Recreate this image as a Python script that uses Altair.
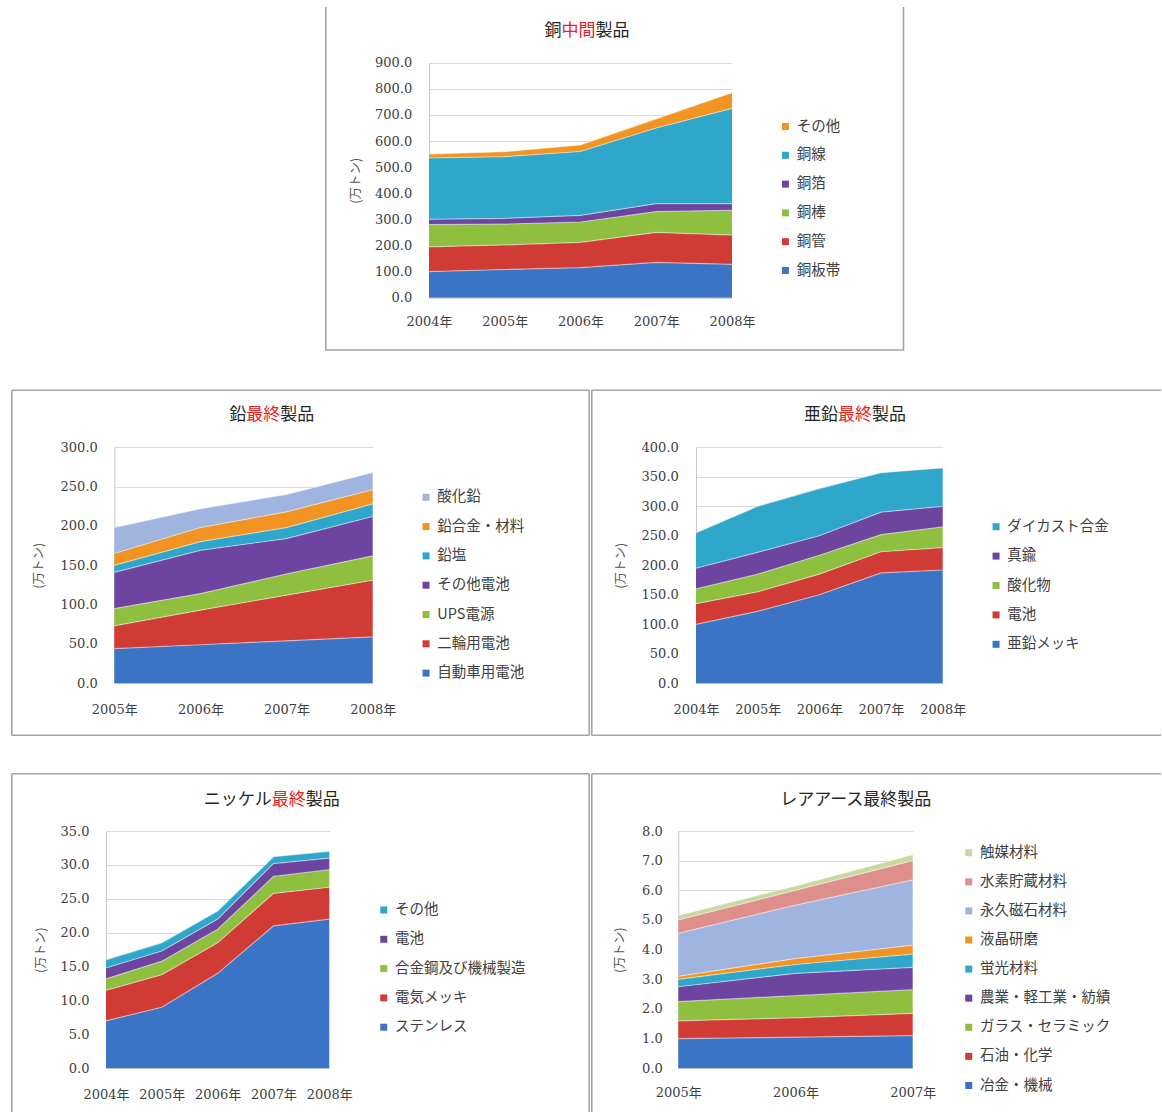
import altair as alt
import pandas as pd

# ---------------- data ----------------
CU_YEARS = ["2004年", "2005年", "2006年", "2007年", "2008年"]
CU_NAMES = ["銅板帯", "銅管", "銅棒", "銅箔", "銅線", "その他"]
CU_PLATE = [100, 108, 115, 135, 128]
CU_TUBE = [95, 94, 97, 115, 112]
CU_ROD = [85, 80, 78, 80, 95]
CU_FOIL = [20, 22, 25, 30, 25]
CU_WIRE = [235, 236, 245, 290, 365]
CU_OTHER = [15, 19, 25, 35, 60]
CU_TICKS = [0, 100, 200, 300, 400, 500, 600, 700, 800, 900]

PB_YEARS = ["2005年", "2006年", "2007年", "2008年"]
PB_NAMES = ["自動車用電池", "二輪用電池", "UPS電源", "その他電池", "鉛塩", "鉛合金・材料", "酸化鉛"]
PB_AUTO = [44, 49, 54, 59]
PB_BIKE = [29, 44, 58, 72]
PB_UPS = [22, 21, 27, 31]
PB_OTHERBAT = [46, 55, 45, 50]
PB_SALT = [9, 11, 14, 16]
PB_ALLOY = [15, 18, 20, 18]
PB_OXIDE = [33, 24, 22, 22]
PB_TICKS = [0, 50, 100, 150, 200, 250, 300]

ZN_YEARS = ["2004年", "2005年", "2006年", "2007年", "2008年"]
ZN_NAMES = ["亜鉛メッキ", "電池", "酸化物", "真鍮", "ダイカスト合金"]
ZN_GALV = [100, 122, 150, 187, 192]
ZN_BAT = [35, 33, 35, 36, 38]
ZN_OXIDE = [25, 30, 32, 29, 35]
ZN_BRASS = [35, 37, 33, 38, 35]
ZN_DIECAST = [60, 78, 80, 67, 65]
ZN_TICKS = [0, 50, 100, 150, 200, 250, 300, 350, 400]

NI_YEARS = ["2004年", "2005年", "2006年", "2007年", "2008年"]
NI_NAMES = ["ステンレス", "電気メッキ", "合金鋼及び機械製造", "電池", "その他"]
NI_STAINLESS = [7.0, 9.0, 14.0, 21.0, 22.0]
NI_PLATING = [4.5, 4.8, 4.5, 4.8, 4.7]
NI_ALLOY = [1.7, 2.0, 2.0, 2.5, 2.6]
NI_BAT = [1.6, 1.5, 1.5, 1.9, 1.7]
NI_OTHER = [1.2, 1.2, 1.2, 1.0, 1.0]
NI_TICKS = [0, 5, 10, 15, 20, 25, 30, 35]

RE_YEARS = ["2005年", "2006年", "2007年"]
RE_NAMES = ["冶金・機械", "石油・化学", "ガラス・セラミック", "農業・軽工業・紡績", "蛍光材料",
            "液晶研磨", "永久磁石材料", "水素貯蔵材料", "触媒材料"]
RE_METAL = [1.0, 1.05, 1.1]
RE_PETRO = [0.6, 0.65, 0.75]
RE_GLASS = [0.65, 0.75, 0.8]
RE_AGRI = [0.5, 0.75, 0.75]
RE_PHOSPHOR = [0.25, 0.3, 0.45]
RE_POLISH = [0.1, 0.2, 0.3]
RE_MAGNET = [1.45, 1.8, 2.2]
RE_HYDROGEN = [0.45, 0.5, 0.65]
RE_CATALYST = [0.15, 0.15, 0.2]
RE_TICKS = [0, 1, 2, 3, 4, 5, 6, 7, 8]

# ---------------- styles ----------------
BLUE = "#3b74c4"
RED = "#d13b35"
GREEN = "#8fbf3f"
PURPLE = "#6d45a0"
AQUA = "#2ea7cb"
ORANGE = "#f29423"
LIGHTBLUE = "#9fb5e0"
PINK = "#de8e8b"
LIGHTGREEN = "#c6d9a0"

JP_FONT = "Noto Sans CJK JP"
NUM_FONT = "'DejaVu Serif', 'Liberation Serif', 'Noto Sans CJK JP', serif"
LABEL_COLOR = "#404040"
BORDER = "#a3a3a3"
TITLE_BLACK = "#262626"
TITLE_RED = "#f0201e"

ONE = pd.DataFrame({"k": [0]})


def title_layers(pieces, cx, cy, fs=17):
    total = sum(len(t) for t, _ in pieces) * fs
    x = cx - total / 2.0
    out = []
    for t, c in pieces:
        out.append(
            alt.Chart(ONE).mark_text(text=t, font=JP_FONT, fontSize=fs, color=c,
                                     align="left", baseline="middle")
            .encode(x=alt.value(x), y=alt.value(cy))
        )
        x += len(t) * fs
    return out


def border_layers(segments):
    out = []
    for (xa, ya, xb, yb) in segments:
        if xa == xb:
            enc = dict(x=alt.value(xa), y=alt.value(ya), y2=alt.value(yb))
        else:
            enc = dict(y=alt.value(ya), x=alt.value(xa), x2=alt.value(xb))
        out.append(alt.Chart(ONE).mark_rule(color=BORDER, strokeWidth=1.6).encode(**enc))
    return out


def panel(years, names, series, colors, ymax, ticks, title_pieces, g):
    rows = []
    for i, (n, vals) in enumerate(zip(names, series)):
        for y, v in zip(years, vals):
            rows.append({"year": y, "series": n, "order": i, "value": v})
    df = pd.DataFrame(rows)
    df["top"] = df.groupby("year")["value"].cumsum()

    xs = alt.Scale(type="point", domain=years, range=[g["x0"], g["x1"]], padding=0)
    ys = alt.Scale(domain=[0, ymax], range=[g["yb"], g["yt"]], nice=False, zero=True)

    x_axis = alt.Axis(orient="bottom", offset=-(g["H"] - g["yb"]), labelAngle=0, ticks=False,
                      domain=False, grid=False, labelPadding=g["xpad"], title=None,
                      labelFont=NUM_FONT, labelFontSize=13, labelColor=LABEL_COLOR)
    y_axis = alt.Axis(orient="left", offset=-g["x0"], values=ticks, format=".1f", ticks=False,
                      domain=True, domainColor="#c8c8c8", grid=True, gridColor="#d9d9d9",
                      labelPadding=g["ypad"], labelFont=NUM_FONT, labelFontSize=13,
                      labelColor=LABEL_COLOR, title="(万トン)", titleFont=JP_FONT,
                      titleFontSize=12.5, titleFontWeight="normal", titleColor="#505050",
                      titleX=g["tx"] - g["x0"], titleY=(g["yb"] + g["yt"]) / 2.0,
                      titleAngle=270, titleAlign="center", titleBaseline="middle")

    legend = alt.Legend(orient="none", legendX=g["lx"] - 3.5, legendY=g["ly"] - 7.25,
                        direction="vertical", title=None, symbolType="square", symbolSize=49,
                        symbolStrokeWidth=0, labelFont=JP_FONT, labelFontSize=14.5,
                        labelColor=LABEL_COLOR, labelOffset=4, rowPadding=g["pitch"] - 14.5,
                        padding=0, labelLimit=400)

    area = alt.Chart(df).mark_area(interpolate="linear").encode(
        x=alt.X("year:O", scale=xs, axis=x_axis),
        y=alt.Y("value:Q", stack="zero", scale=ys, axis=y_axis),
        color=alt.Color("series:N", scale=alt.Scale(domain=names[::-1], range=colors[::-1]),
                        legend=legend),
        order=alt.Order("order:Q", sort="ascending"),
    )
    shine = alt.Chart(df).mark_line(color="white", strokeWidth=1.2, opacity=0.45).encode(
        x=alt.X("year:O", scale=xs, axis=x_axis),
        y=alt.Y("top:Q", stack=None, scale=ys, axis=y_axis),
        detail="series:N",
    )
    layers = border_layers(g["edges"]) + title_layers(title_pieces, g["tcx"], g["tcy"]) + [area, shine]
    return alt.layer(*layers).properties(width=g["W"], height=g["H"])


# ---------------- layout (panel-local pixels) ----------------
S = 314  # horizontal shift of the top panel inside its (wider) row
G1 = dict(W=S + 580, H=352, x0=S + 104, x1=S + 407, yb=297.7, yt=62.7, tcx=S + 262, tcy=31,
          lx=S + 456.7, ly=126.5, pitch=28.3, ypad=17.3, xpad=18, tx=S + 30,
          edges=[(S + 0.8, 7, S + 0.8, 350.5), (S + 578.5, 7, S + 578.5, 350.5),
                 (S + 0.8, 350, S + 578.5, 350)])
G2 = dict(W=580, H=347, x0=103.3, x1=361.7, yb=294.3, yt=58.3, tcx=260.7, tcy=26, lx=411.3,
          ly=108.3, pitch=28.8, ypad=17, xpad=20.4, tx=27.3,
          edges=[(0.8, 1.2, 0.8, 346.2), (0.8, 1.2, 578.2, 1.2), (578.2, 1.2, 578.2, 346.2),
                 (0.8, 346.2, 578.2, 346.2)])
G3 = dict(W=571, H=347, x0=105, x1=351.7, yb=294.3, yt=58.3, tcx=264, tcy=26, lx=401.3,
          ly=137.7, pitch=28.9, ypad=17.7, xpad=20.4, tx=29,
          edges=[(0.8, 1.2, 0.8, 346.2), (0.8, 1.2, 570, 1.2), (0.8, 346.2, 570, 346.2)])
G4 = dict(W=580, H=340, x0=95, x1=318.3, yb=295.3, yt=58, tcx=260.7, tcy=27, lx=369, ly=137,
          pitch=28.8, ypad=17, xpad=19.7, tx=29,
          edges=[(0.8, 0.8, 0.8, 339), (0.8, 0.8, 578.2, 0.8), (578.2, 0.8, 578.2, 339)])
G5 = dict(W=571, H=340, x0=87.3, x1=321.7, yb=295.3, yt=58, tcx=265.7, tcy=27, lx=374, ly=79.7,
          pitch=28.6, ypad=16, xpad=18, tx=28.3,
          edges=[(0.8, 0.8, 0.8, 339), (0.8, 0.8, 570, 0.8)])

p1 = panel(CU_YEARS, CU_NAMES, [CU_PLATE, CU_TUBE, CU_ROD, CU_FOIL, CU_WIRE, CU_OTHER],
           [BLUE, RED, GREEN, PURPLE, AQUA, ORANGE], 900, CU_TICKS,
           [("銅", TITLE_BLACK), ("中間", TITLE_RED), ("製品", TITLE_BLACK)], G1)
p2 = panel(PB_YEARS, PB_NAMES, [PB_AUTO, PB_BIKE, PB_UPS, PB_OTHERBAT, PB_SALT, PB_ALLOY, PB_OXIDE],
           [BLUE, RED, GREEN, PURPLE, AQUA, ORANGE, LIGHTBLUE], 300, PB_TICKS,
           [("鉛", TITLE_BLACK), ("最終", TITLE_RED), ("製品", TITLE_BLACK)], G2)
p3 = panel(ZN_YEARS, ZN_NAMES, [ZN_GALV, ZN_BAT, ZN_OXIDE, ZN_BRASS, ZN_DIECAST],
           [BLUE, RED, GREEN, PURPLE, AQUA], 400, ZN_TICKS,
           [("亜鉛", TITLE_BLACK), ("最終", TITLE_RED), ("製品", TITLE_BLACK)], G3)
p4 = panel(NI_YEARS, NI_NAMES, [NI_STAINLESS, NI_PLATING, NI_ALLOY, NI_BAT, NI_OTHER],
           [BLUE, RED, GREEN, PURPLE, AQUA], 35, NI_TICKS,
           [("ニッケル", TITLE_BLACK), ("最終", TITLE_RED), ("製品", TITLE_BLACK)], G4)
p5 = panel(RE_YEARS, RE_NAMES,
           [RE_METAL, RE_PETRO, RE_GLASS, RE_AGRI, RE_PHOSPHOR, RE_POLISH, RE_MAGNET, RE_HYDROGEN,
            RE_CATALYST],
           [BLUE, RED, GREEN, PURPLE, AQUA, ORANGE, LIGHTBLUE, PINK, LIGHTGREEN], 8, RE_TICKS,
           [("レアアース最終製品", TITLE_BLACK)], G5)


def independent(c):
    return c.resolve_scale(x="independent", y="independent", color="independent").resolve_legend(
        color="independent")


row2 = independent(alt.hconcat(p2, p3, spacing=0))
row3 = independent(alt.hconcat(p4, p5, spacing=0))

chart = independent(alt.vconcat(p1, row2, row3, spacing=37)).properties(
    padding={"left": 11, "top": 0, "right": 0, "bottom": 0},
    background="white",
).configure_view(stroke=None)

chart.save("out.html", embed_options={"renderer": "svg", "actions": False})
